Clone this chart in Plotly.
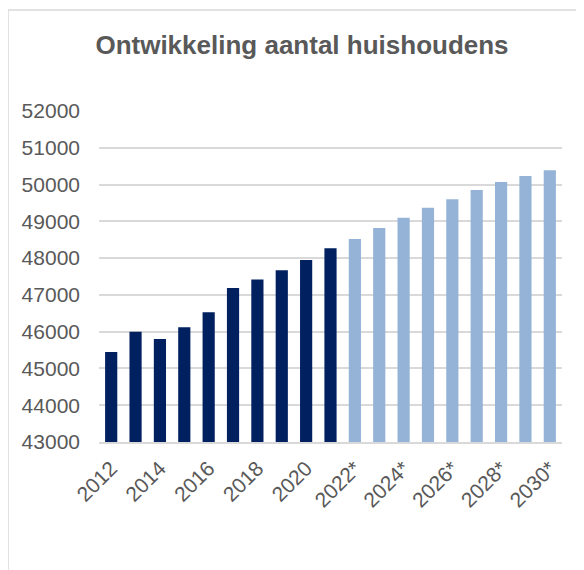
import plotly.graph_objects as go

years = ["2012", "2013", "2014", "2015", "2016", "2017", "2018", "2019", "2020", "2021",
         "2022*", "2023*", "2024*", "2025*", "2026*", "2027*", "2028*", "2029*", "2030*"]
households = [45450, 46000, 45800, 46120, 46530, 47190, 47420, 47670, 47950, 48270,
              48520, 48820, 49100, 49370, 49600, 49850, 50070, 50230, 50390]
is_forecast = [False] * 10 + [True] * 9
tick_labels = ["2012", "2014", "2016", "2018", "2020", "2022*", "2024*", "2026*", "2028*", "2030*"]
y_ticks = list(range(43000, 52001, 1000))

colors = ["#95B3D7" if f else "#002060" for f in is_forecast]

W, H = 576, 562
L, R, T, B = 91, 22, 103, 128
pw, ph = W - L - R, H - T - B

fig = go.Figure(go.Bar(
    x=years, y=households, marker=dict(color=colors, line=dict(width=0)),
    width=0.5, hoverinfo="x+y",
))

fig.update_layout(
    width=W, height=H,
    margin=dict(l=L, r=R, t=T, b=B, autoexpand=False),
    paper_bgcolor="white", plot_bgcolor="white",
    font=dict(family="Liberation Sans, Arial, sans-serif", color="#595959", size=21),
    title=dict(text="<b>Ontwikkeling aantal huishoudens</b>", x=(302 - 8) / W, xanchor="center",
               y=1 - 37 / H, yanchor="middle",
               font=dict(size=26, color="#595959")),
    showlegend=False,
    xaxis=dict(type="category", tickmode="array", tickvals=tick_labels, ticktext=tick_labels,
               tickangle=-45, showgrid=False, showline=True, linecolor="#d9d9d9", linewidth=1.5,
               ticks="", tickfont=dict(size=21, color="#595959"), ticklabelstandoff=4),
    yaxis=dict(range=[43000, 52000], tickvals=y_ticks, tickformat="d", showgrid=True,
               gridcolor="#d9d9d9", gridwidth=1.5, zeroline=False, showline=False, ticks="",
               tickfont=dict(size=21, color="#595959"), ticklabelstandoff=18),
    shapes=[dict(type="rect", xref="paper", yref="paper",
                 x0=(0 - L) / pw, x1=(W + 20 - L) / pw, y0=-1.0, y1=(ph + T - 2) / ph,
                 line=dict(color="#d9d9d9", width=1.5), fillcolor="rgba(0,0,0,0)", layer="below")],
)

fig.write_html("out.html")
